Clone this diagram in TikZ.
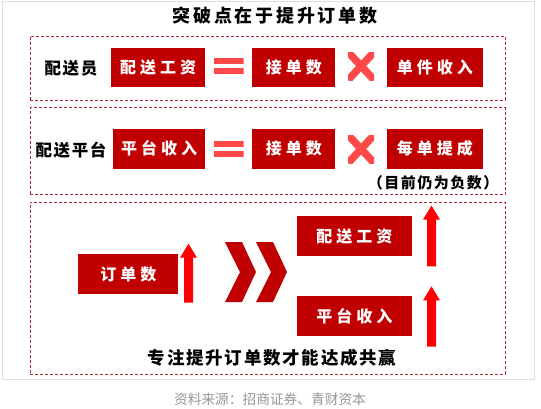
\documentclass[tikz,border=0pt]{standalone}
\usepackage{xcolor}
\usepackage{fontspec}
\usetikzlibrary{positioning, calc}
\newfontfamily\cjkfont{Noto Sans CJK SC}
\newfontfamily\boxfont[LetterSpace=25]{Noto Sans CJK SC}
\newfontfamily\titlefont[LetterSpace=15]{Noto Sans CJK SC}
\newfontfamily\labelfont[LetterSpace=10]{Noto Sans CJK SC}
\definecolor{boxred}{RGB}{192, 0, 0}
\definecolor{arrowred}{RGB}{255, 0, 0}
\definecolor{signred}{RGB}{255, 72, 72}
\definecolor{panelred}{RGB}{168, 40, 52}
\definecolor{notegray}{RGB}{150, 150, 150}
\newcommand{\redarrow}[3]{\fill[arrowred] (#1-4.5,#3) -- (#1-4.5,#2+14) -- (#1-8.5,#2+14) -- (#1,#2) -- (#1+8.5,#2+14) -- (#1+4.5,#2+14) -- (#1+4.5,#3) -- cycle;}
\newcommand{\chevron}[1]{\fill[boxred] (#1,242) -- (#1+17,242) -- (#1+31,272) -- (#1+17,302) -- (#1,302) -- (#1+15,272) -- cycle;}

\begin{document}
\begin{tikzpicture}[x=1pt, y=-1pt,
    redbox/.style={rectangle, fill=boxred, text=white, minimum height=39pt, inner sep=0pt, font=\boxfont\fontsize{16}{16}\selectfont\bfseries},
    panel/.style={rectangle, draw=panelred, dash pattern=on 3pt off 2pt, line width=0.8pt, minimum width=475pt, inner sep=0pt},
    rowlabel/.style={font=\labelfont\fontsize{16.5}{16.5}\selectfont\bfseries},
    eqsign/.style={minimum width=30pt, minimum height=16pt, inner sep=0pt, path picture={
        \fill[signred] (path picture bounding box.north west) rectangle ([yshift=-6pt]path picture bounding box.north east);
        \fill[signred] ([yshift=6pt]path picture bounding box.south west) rectangle (path picture bounding box.south east);}},
    timessign/.style={minimum width=26pt, minimum height=28pt, inner sep=0pt, path picture={
        \draw[signred, line width=7.5pt] (path picture bounding box.north west) -- (path picture bounding box.south east)
            (path picture bounding box.north east) -- (path picture bounding box.south west);}}]
    \useasboundingbox (0,0) rectangle (541,408);
    \draw[gray!25] (2,1) rectangle (534,379);

    \node (title) at (275,16) [font=\titlefont\fontsize{18}{18}\selectfont\bfseries] {突破点在于提升订单数};

    % Rider
    \node (panel1) at (267.5,68) [panel, minimum height=64pt] {};
    \node (lab1) at (71,68) [rowlabel] {配送员};
    \node (wage1) at (158,67.5) [redbox, minimum width=94pt] {配送工资};
    \node (ord1) [redbox, minimum width=83pt, right=47pt of wage1] {接单数};
    \node (unit1) [redbox, minimum width=96pt, right=51pt of ord1] {单件收入};
    \node (eq1) at ($(wage1.east)!0.5!(ord1.west)+(0,-1.5)$) [eqsign] {};
    \node (x1) at ($(ord1.east)!0.5!(unit1.west)+(0,-1.5)$) [timessign] {};

    % Platform
    \node (panel2) at (267.5,151) [panel, minimum height=87pt] {};
    \node (lab2) at (71,150) [rowlabel] {配送平台};
    \node (rev2) at (159,148.5) [redbox, minimum width=92pt, minimum height=40pt] {平台收入};
    \node (ord2) [redbox, minimum width=83pt, minimum height=40pt, right=47pt of rev2] {接单数};
    \node (cut2) [redbox, minimum width=96pt, minimum height=40pt, right=51pt of ord2] {每单提成};
    \node (eq2) at ($(rev2.east)!0.5!(ord2.west)+(0,0)$) [eqsign] {};
    \node (x2) at ($(ord2.east)!0.5!(cut2.west)+(0,0.5)$) [timessign] {};
    \node (note2) at (433,183) [font=\labelfont\fontsize{15}{15}\selectfont\bfseries] {（目前仍为负数）};

    % Win-win
    \node (panel3) at (267.5,288) [panel, minimum height=172pt] {};
    \node (ord3) at (128.3,274.3) [redbox, minimum width=100pt, minimum height=40pt] {订单数};
    \node (wage3) at (354.3,236) [redbox, minimum width=115pt, minimum height=40pt] {配送工资};
    \node (rev3) [redbox, minimum width=115pt, minimum height=40pt, below=40pt of wage3] {平台收入};
    \redarrow{188.5}{243.7}{302.7}
    \chevron{225}
    \chevron{256}
    \redarrow{431.5}{205.6}{266.3}
    \redarrow{431.5}{286.4}{346.7}
    \node (win) at (272,358) [font=\labelfont\fontsize{17.5}{17.5}\selectfont\bfseries] {专注提升订单数才能达成共赢};

    \node (source) at (270,399) [font=\cjkfont\fontsize{13.7}{13.7}\selectfont, text=notegray] {资料来源：招商证券、青财资本};
\end{tikzpicture}
\end{document}
